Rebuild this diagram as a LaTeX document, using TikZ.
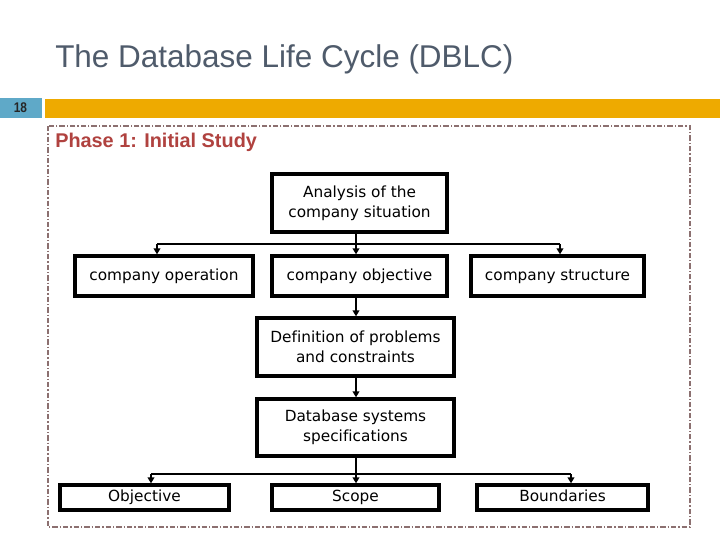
\documentclass[tikz,border=0pt]{standalone}
\usepackage{fontspec}
\setmainfont{Liberation Sans}
\newfontfamily\boxfont[Ligatures=NoCommon]{DejaVu Sans}
\usetikzlibrary{arrows.meta}
\definecolor{titlegray}{HTML}{4F5B6B}
\definecolor{numblue}{HTML}{5FA9C8}
\definecolor{barorange}{HTML}{EEAA00}
\definecolor{framebrown}{HTML}{8C7070}
\definecolor{phasered}{HTML}{B0423F}
\begin{document}
\begin{tikzpicture}[x=0.75pt,y=-0.75pt,
  blk/.style={draw=black,line width=2.5pt,inner sep=0pt,align=center,font=\boxfont\fontsize{11.5}{15}\selectfont},
  oneline/.style={blk,text height=8.6pt,text depth=2.6pt},
  conn/.style={line width=1.2pt},
  arr/.style={conn,-{Triangle[width=5pt,length=4.5pt]}}]
\useasboundingbox (0,0) rectangle (720,540);
\fill[white] (0,0) rectangle (720,540);
% header
\node[anchor=west,inner sep=0pt,text=titlegray,font=\fontsize{23.6}{26}\selectfont] (title) at (55,59) {The Database Life Cycle (DBLC)};
\fill[numblue] (0,98) rectangle (42,118);
\node[inner sep=0pt,font=\bfseries\fontsize{10.5}{11}\selectfont,text=black!85] (num) at (20.5,108) {\addfontfeature{FakeStretch=0.85}18};
\fill[barorange] (45,99) rectangle (720,118);
% frame
\draw[framebrown,line width=0.8pt,dash pattern=on 4pt off 1.5pt on 1pt off 1.5pt] (48,126) rectangle (690,527);
\node[anchor=west,inner sep=0pt,text=phasered,font=\bfseries\fontsize{14.9}{16}\selectfont] (phase) at (55,142) {Phase 1: Initial Study};
% boxes
\node[blk,minimum width=175*0.75pt,minimum height=58*0.75pt] (ana) at (359.5,203) {Analysis of the\\company situation};
\node[oneline,minimum width=178*0.75pt,minimum height=40*0.75pt] (op) at (164,276) {company operation};
\node[oneline,minimum width=175*0.75pt,minimum height=40*0.75pt] (obj) at (359.5,276) {company objective};
\node[oneline,minimum width=173*0.75pt,minimum height=40*0.75pt] (str) at (557.5,276) {company structure};
\node[blk,minimum width=197*0.75pt,minimum height=58*0.75pt] (def) at (355.5,347) {Definition of problems\\and constraints};
\node[blk,minimum width=197*0.75pt,minimum height=57*0.75pt] (dbs) at (355.5,427.5) {Database systems\\specifications};
\node[oneline,minimum width=169*0.75pt,minimum height=25*0.75pt] (objv) at (144.5,497.5) {Objective};
\node[oneline,minimum width=167*0.75pt,minimum height=25*0.75pt] (scope) at (355.5,497.5) {Scope};
\node[oneline,minimum width=171*0.75pt,minimum height=25*0.75pt] (bnd) at (562.5,497.5) {Boundaries};
% connectors
\coordinate (j1) at (356,244);
\coordinate (l1) at (157,244);
\coordinate (r1) at (560,244);
\draw[conn] (ana.south -| j1) -- (j1);
\draw[conn] (l1) -- (r1);
\draw[arr] (l1) -- (l1 |- op.north);
\draw[arr] (j1) -- (j1 |- obj.north);
\draw[arr] (r1) -- (r1 |- str.north);
\draw[arr] (obj.south -| j1) -- (j1 |- def.north);
\draw[arr] (def.south -| j1) -- (j1 |- dbs.north);
\coordinate (j2) at (356,474);
\coordinate (l2) at (151,474);
\coordinate (r2) at (571,474);
\draw[conn] (dbs.south -| j2) -- (j2);
\draw[conn] (l2) -- (r2);
\draw[arr] (l2) -- (l2 |- objv.north);
\draw[arr] (j2) -- (j2 |- scope.north);
\draw[arr] (r2) -- (r2 |- bnd.north);
\end{tikzpicture}
\end{document}
